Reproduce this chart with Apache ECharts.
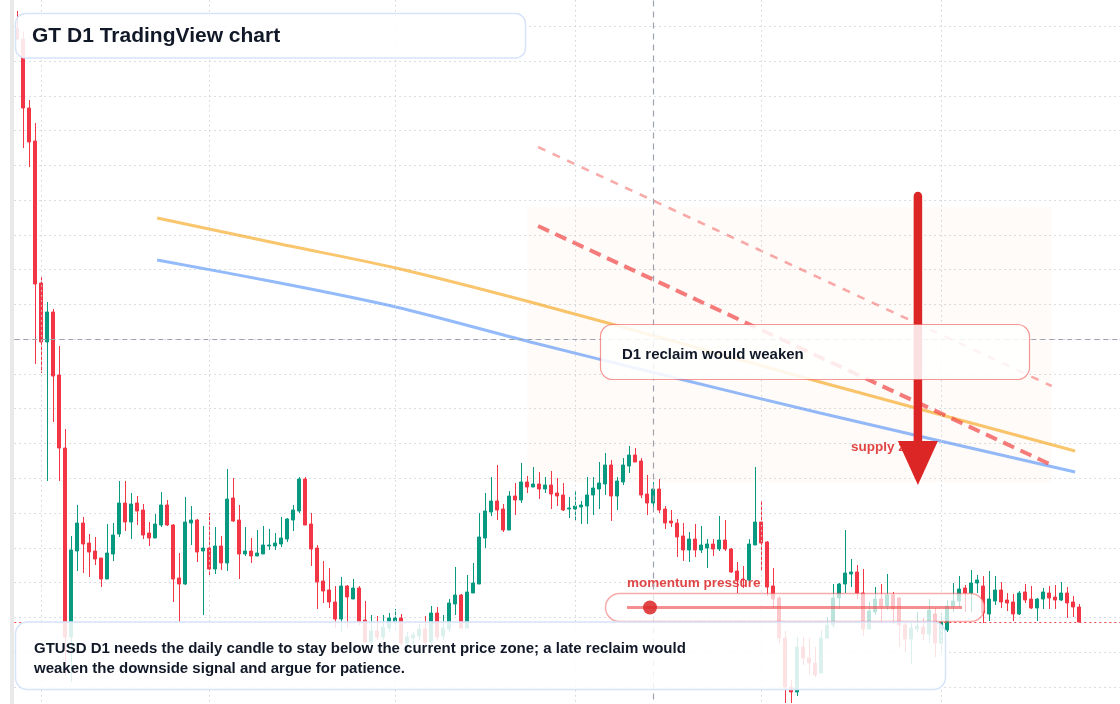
<!DOCTYPE html>
<html>
<head>
<meta charset="utf-8">
<title>GT D1 TradingView chart</title>
<script src="https://cdn.jsdelivr.net/npm/echarts@6.0.0/dist/echarts.min.js"></script>
<style>
  html, body { margin: 0; padding: 0; background: #fff; }
  #chart { width: 1120px; height: 704px; }
</style>
</head>
<body>
<div id="chart"></div>
<script>
// daily slots, first candle on 2025-01-28, a few empty days kept on the right
const firstDay = Date.UTC(2025, 0, 28)
const slotCount = 185
const dates = []
for (let i = 0; i < slotCount; i++) {
  dates.push(new Date(firstDay + i * 86400000).toISOString().slice(0, 10))
}

const open = [24.72, 24.61, 23.92, 23.59, 22.17, 21.58, 21.88, 21.25, 20.52, 18.63,
  19.49, 19.77, 19.57, 19.49, 19.42, 19.21, 19.46, 19.66, 19.97, 19.78,
  19.97, 19.90, 19.67, 19.62, 19.75, 19.95, 19.75, 19.22, 19.16, 19.77,
  19.80, 19.49, 19.52, 19.31, 19.54, 19.37, 20.02, 19.80, 19.46, 19.49,
  19.44, 19.46, 19.54, 19.54, 19.56, 19.61, 19.80, 19.89, 20.21, 19.76,
  19.52, 19.19, 19.10, 18.98, 18.81, 19.14, 19.01, 19.12, 18.80, 18.58,
  18.69, 18.63, 18.72, 18.78, 18.82, 18.57, 18.62, 18.64, 18.71, 18.58,
  18.87, 18.64, 18.71, 18.96, 19.05, 18.72, 19.07, 19.16, 19.62, 19.88,
  19.99, 19.91, 19.70, 20.04, 20.00, 20.18, 20.13, 20.16, 20.11, 20.15,
  20.07, 20.05, 19.91, 19.91, 19.93, 19.94, 20.05, 20.11, 20.16, 20.35,
  20.04, 20.18, 20.34, 20.45, 20.39, 20.06, 19.97, 20.11, 19.91, 19.79,
  19.77, 19.64, 19.50, 19.61, 19.50, 19.52, 19.56, 19.51, 19.60, 19.51,
  19.29, 19.21, 19.20, 19.55, 19.78, 19.58, 19.14, 19.02, 18.62, 18.13,
  18.08, 18.53, 18.42, 18.37, 18.27, 18.62, 18.75, 19.02, 19.16, 19.26,
  19.28, 19.07, 18.71, 18.88, 19.01, 18.94, 19.05, 19.02, 18.75, 18.61,
  18.71, 18.73, 18.66, 18.86, 18.57, 18.70, 18.94, 18.99, 19.12, 19.07,
  19.17, 19.14, 18.86, 18.99, 19.10, 19.00, 18.98, 18.86, 19.08, 19.01,
  18.92, 19.01, 19.07, 19.03, 19.00, 19.07, 18.98, 18.93]
const close = [24.61, 23.92, 23.58, 22.16, 21.58, 21.88, 21.24, 20.52, 18.63, 19.50,
  19.77, 19.56, 19.48, 19.41, 19.21, 19.47, 19.65, 19.97, 19.78, 19.96,
  19.89, 19.65, 19.62, 19.76, 19.95, 19.75, 19.21, 19.16, 19.78, 19.80,
  19.48, 19.52, 19.31, 19.54, 19.37, 20.01, 19.79, 19.46, 19.49, 19.44,
  19.47, 19.55, 19.55, 19.57, 19.62, 19.81, 19.90, 20.21, 19.75, 19.51,
  19.18, 19.09, 18.98, 18.81, 19.14, 19.03, 19.12, 18.78, 18.58, 18.69,
  18.63, 18.73, 18.82, 18.82, 18.57, 18.63, 18.65, 18.71, 18.58, 18.87,
  18.63, 18.72, 18.97, 19.05, 18.72, 19.08, 19.17, 19.63, 19.89, 19.99,
  19.90, 19.70, 20.04, 20.00, 20.18, 20.13, 20.16, 20.11, 20.15, 20.06,
  20.04, 19.90, 19.92, 19.94, 19.95, 20.05, 20.12, 20.17, 20.35, 20.04,
  20.19, 20.35, 20.45, 20.38, 20.05, 19.97, 20.11, 19.90, 19.77, 19.77,
  19.63, 19.50, 19.61, 19.50, 19.55, 19.56, 19.51, 19.60, 19.51, 19.28,
  19.20, 19.20, 19.56, 19.78, 19.57, 19.13, 19.01, 18.62, 18.13, 18.08,
  18.53, 18.42, 18.37, 18.25, 18.62, 18.75, 19.02, 19.16, 19.27, 19.28,
  19.07, 18.71, 18.89, 19.01, 18.94, 19.05, 18.91, 18.75, 18.61, 18.72,
  18.74, 18.66, 18.90, 18.57, 18.78, 18.94, 18.99, 19.11, 19.07, 19.17,
  19.20, 18.87, 19.01, 19.10, 18.98, 18.97, 18.86, 19.07, 19.00, 18.92,
  19.01, 19.08, 19.02, 19.00, 19.07, 18.97, 18.93, 18.78]
const low = [24.60, 23.52, 23.33, 21.36, 21.27, 20.19, 20.78, 20.19, 18.24, 18.18,
  19.29, 19.27, 19.23, 19.35, 19.13, 19.21, 19.39, 19.63, 19.69, 19.61,
  19.75, 19.61, 19.54, 19.62, 19.73, 19.74, 18.98, 18.78, 19.15, 19.55,
  19.38, 18.85, 19.25, 19.26, 19.30, 19.29, 19.78, 19.21, 19.44, 19.37,
  19.44, 19.46, 19.50, 19.50, 19.53, 19.58, 19.69, 19.87, 19.75, 19.34,
  18.91, 18.97, 18.92, 18.72, 18.68, 18.72, 19.01, 18.75, 18.58, 18.55,
  18.60, 18.60, 18.68, 18.70, 18.55, 18.50, 18.55, 18.60, 18.55, 18.55,
  18.60, 18.60, 18.68, 18.85, 18.72, 18.72, 19.07, 19.16, 19.52, 19.84,
  19.80, 19.68, 19.70, 19.85, 19.97, 20.07, 20.13, 20.01, 20.07, 19.91,
  19.94, 19.89, 19.82, 19.79, 19.76, 19.76, 19.85, 19.91, 20.05, 19.79,
  19.90, 20.15, 20.27, 20.38, 20.02, 19.85, 19.93, 19.87, 19.71, 19.73,
  19.43, 19.39, 19.38, 19.43, 19.47, 19.32, 19.44, 19.49, 19.49, 19.27,
  19.07, 19.12, 19.20, 19.55, 19.30, 19.04, 18.91, 18.57, 17.97, 17.97,
  18.04, 18.35, 18.25, 18.23, 18.27, 18.62, 18.72, 18.91, 19.07, 19.13,
  19.01, 18.64, 18.71, 18.85, 18.77, 18.90, 18.76, 18.53, 18.48, 18.36,
  18.68, 18.60, 18.57, 18.43, 18.47, 18.68, 18.88, 18.93, 18.88, 18.88,
  19.07, 18.77, 18.79, 18.95, 18.92, 18.89, 18.79, 18.85, 18.97, 18.91,
  18.79, 18.91, 18.91, 18.91, 18.99, 18.82, 18.83, 18.78]
const high = [24.89, 24.68, 24.00, 23.77, 22.23, 21.98, 21.91, 21.54, 20.71, 19.64,
  19.95, 19.83, 19.66, 19.63, 19.42, 19.76, 19.77, 20.19, 20.19, 20.07,
  20.04, 19.96, 19.78, 19.86, 20.08, 20.00, 19.76, 19.47, 20.03, 19.94,
  19.81, 19.74, 19.87, 19.73, 19.64, 20.31, 20.22, 19.95, 19.73, 19.62,
  19.70, 19.74, 19.71, 19.67, 19.83, 19.82, 19.95, 20.23, 20.23, 19.87,
  19.55, 19.39, 19.32, 19.14, 19.23, 19.15, 19.21, 19.14, 18.99, 18.85,
  18.84, 18.85, 18.87, 18.91, 18.86, 18.68, 18.68, 18.76, 18.84, 18.94,
  18.93, 18.85, 19.01, 19.33, 19.06, 19.25, 19.37, 19.87, 20.07, 20.23,
  20.35, 19.96, 20.09, 20.17, 20.37, 20.24, 20.33, 20.28, 20.23, 20.29,
  20.22, 20.17, 20.03, 20.09, 19.99, 20.23, 20.23, 20.38, 20.47, 20.40,
  20.23, 20.42, 20.54, 20.52, 20.42, 20.25, 20.18, 20.21, 19.94, 19.90,
  19.81, 19.77, 19.68, 19.76, 19.74, 19.61, 19.61, 19.84, 19.80, 19.52,
  19.38, 19.34, 19.61, 20.33, 19.99, 19.59, 19.32, 19.04, 18.69, 18.20,
  18.63, 18.63, 18.62, 18.53, 18.70, 18.83, 19.16, 19.17, 19.70, 19.41,
  19.35, 19.31, 18.98, 19.13, 19.16, 19.26, 19.08, 19.03, 18.78, 18.78,
  18.88, 18.82, 19.01, 18.92, 18.87, 19.00, 19.17, 19.24, 19.15, 19.30,
  19.25, 19.24, 19.29, 19.24, 19.18, 19.07, 19.06, 19.09, 19.16, 19.14,
  19.02, 19.12, 19.14, 19.15, 19.18, 19.13, 19.04, 18.96]

// overlays, as [day index, price]
const emaFast = [[23.3, 22.82], [43.8, 22.56], [63.1, 22.32], [85.5, 21.98], [110.4, 21.57], [133.8, 21.18], [176.3, 20.49]]
const emaSlow = [[23.3, 22.40], [43.8, 22.17], [63.1, 21.93], [85.5, 21.58], [110.4, 21.21], [133.8, 20.87], [176.3, 20.28]]
const supplyLine = [[86.8, 22.74], [172.4, 20.35]]
const upperLine = [[86.8, 23.53], [172.4, 21.14]]
const supplyZone = [[85.0, 22.93], [172.4, 20.18]]
const crossDay = 106
const crossPrice = 21.61
const arrowDay = 150.1
const arrowPrices = [23.04, 20.59, 20.15] // tail, head base, tip

const candleData = open.map((o, i) => [o, close[i], low[i], high[i]])
const monthStarts = []
dates.forEach((d, i) => { if (d.slice(8) === '01') monthStarts.push(i) })

const font = '"Liberation Sans", Arial, sans-serif'
const ink = '#111827'
const red = 'rgba(220,38,38,0.85)'
const dotted = { color: '#d0d4d9', width: 1, type: [1.5, 3.5] }
const noMark = { symbol: ['none', 'none'], silent: true, label: { show: false }, animation: false }

let chart = echarts.init(document.getElementById('chart'))
chart.setOption({
  animation: false,
  backgroundColor: '#ffffff',
  grid: { left: 14.3, right: -4.3, top: -8.54, bottom: -17.6, outerBoundsMode: 'none', containLabel: false },
  xAxis: [
    { type: 'category', data: dates, boundaryGap: true, show: false },
    { type: 'value', min: -0.5, max: slotCount - 0.5, show: false }
  ],
  yAxis: [
    {
      type: 'value', min: 0, max: 21, interval: 1,
      axisLine: { show: false }, axisTick: { show: false }, axisLabel: { show: false },
      splitLine: { show: true, lineStyle: dotted }
    },
    { type: 'value', min: 17.784, max: 25.0854, show: false }
  ],
  series: [
    { // month grid lines
      type: 'line', xAxisIndex: 1, yAxisIndex: 1, data: [], z: 0, silent: true,
      markLine: Object.assign({}, noMark, { lineStyle: dotted, data: monthStarts.map(i => ({ xAxis: i })) })
    },
    { // supply zone shade
      type: 'line', xAxisIndex: 1, yAxisIndex: 1, data: [], z: 1, silent: true,
      markArea: {
        silent: true,
        itemStyle: { color: 'rgba(249,115,22,0.03)' },
        data: [[{ coord: supplyZone[0] }, { coord: supplyZone[1] }]]
      }
    },
    {
      type: 'line', xAxisIndex: 1, yAxisIndex: 1, data: emaFast, smooth: 0.3, symbol: 'none', z: 2, silent: true,
      lineStyle: { color: 'rgba(245,158,11,0.6)', width: 3 }
    },
    {
      type: 'line', xAxisIndex: 1, yAxisIndex: 1, data: emaSlow, smooth: 0.3, symbol: 'none', z: 2, silent: true,
      lineStyle: { color: 'rgba(59,130,246,0.55)', width: 3 }
    },
    {
      type: 'line', xAxisIndex: 1, yAxisIndex: 1, data: supplyLine, symbol: 'none', z: 2, silent: true,
      lineStyle: { color: 'rgba(239,68,68,0.7)', width: 4, type: [12, 7] }
    },
    {
      type: 'line', xAxisIndex: 1, yAxisIndex: 1, data: upperLine, symbol: 'none', z: 2, silent: true,
      lineStyle: { color: 'rgba(239,68,68,0.45)', width: 2.5, type: [8, 8] }
    },
    {
      type: 'candlestick', xAxisIndex: 0, yAxisIndex: 1, data: candleData, barWidth: 3.8, z: 3, silent: true,
      itemStyle: { color: '#089981', color0: '#f23645', borderColor: '#089981', borderColor0: '#f23645', borderWidth: 1 },
      markLine: Object.assign({}, noMark, {
        data: [
          { xAxis: dates[crossDay], lineStyle: { color: '#9ca3af', width: 1.2, type: [6, 5] } },
          { yAxis: crossPrice, lineStyle: { color: '#9ca3af', width: 1.2, type: [5, 4] } },
          { yAxis: close[close.length - 1], lineStyle: { color: '#ef4444', width: 1, type: [2, 3] } }
        ]
      })
    }
  ]
})

// arrow placed from its data position
const tail = chart.convertToPixel({ seriesIndex: 2 }, [arrowDay, arrowPrices[0]])
const head = chart.convertToPixel({ seriesIndex: 2 }, [arrowDay, arrowPrices[1]])
const tip = chart.convertToPixel({ seriesIndex: 2 }, [arrowDay, arrowPrices[2]])

chart.setOption({
  graphic: [
    { type: 'rect', silent: true, z: 1, shape: { x: 10, y: 0, width: 4, height: 704 }, style: { fill: '#e9e9e9' } },
    {
      type: 'text', silent: true, z: 1, x: 627, y: 583,
      style: { text: 'momentum pressure', font: 'bold 13.5px ' + font, fill: red, verticalAlign: 'middle' }
    },
    {
      type: 'text', silent: true, z: 50, x: 851, y: 447.5,
      style: { text: 'supply zone', font: 'bold 13.5px ' + font, fill: red, verticalAlign: 'middle' }
    },
    {
      type: 'line', silent: true, z: 60,
      shape: { x1: tail[0], y1: tail[1], x2: head[0], y2: head[1] + 4 },
      style: { stroke: '#dc2626', lineWidth: 8.5, lineCap: 'round' }
    },
    {
      type: 'polygon', silent: true, z: 60,
      shape: { points: [[head[0] - 20, head[1]], [head[0] + 20, head[1]], [tip[0], tip[1]]] },
      style: { fill: '#dc2626' }
    },
    { // reclaim box
      type: 'rect', silent: true, z: 70,
      shape: { x: 600.5, y: 324.5, width: 429, height: 55, r: 12 },
      style: { fill: 'rgba(255,255,255,0.86)', stroke: 'rgba(239,68,68,0.55)', lineWidth: 1.2 }
    },
    {
      type: 'text', silent: true, z: 71, x: 622, y: 354.5,
      style: { text: 'D1 reclaim would weaken', font: 'bold 15px ' + font, fill: ink, verticalAlign: 'middle' }
    },
    { // momentum pill
      type: 'rect', silent: true, z: 70,
      shape: { x: 605.5, y: 593.5, width: 379, height: 28, r: 14 },
      style: { fill: 'rgba(255,255,255,0.72)', stroke: 'rgba(239,68,68,0.45)', lineWidth: 1.5 }
    },
    {
      type: 'line', silent: true, z: 71,
      shape: { x1: 627, y1: 607.5, x2: 962, y2: 607.5 },
      style: { stroke: 'rgba(239,68,68,0.6)', lineWidth: 3 }
    },
    {
      type: 'circle', silent: true, z: 72,
      shape: { cx: 650, cy: 607.5, r: 7 },
      style: { fill: 'rgba(220,38,38,0.85)' }
    },
    { // note box
      type: 'rect', silent: true, z: 70,
      shape: { x: 15.5, y: 622, width: 930, height: 67.5, r: 12 },
      style: { fill: 'rgba(255,255,255,0.86)', stroke: '#d6e4fa', lineWidth: 1.5 }
    },
    {
      type: 'text', silent: true, z: 71, x: 34, y: 648.5,
      style: { text: 'GTUSD D1 needs the daily candle to stay below the current price zone; a late reclaim would', font: 'bold 15px ' + font, fill: ink, verticalAlign: 'middle' }
    },
    {
      type: 'text', silent: true, z: 71, x: 34, y: 668.5,
      style: { text: 'weaken the downside signal and argue for patience.', font: 'bold 15px ' + font, fill: ink, verticalAlign: 'middle' }
    },
    { // title box
      type: 'rect', silent: true, z: 70,
      shape: { x: 15.5, y: 13.5, width: 510, height: 44.5, r: 10 },
      style: { fill: 'rgba(255,255,255,0.88)', stroke: '#d6e4fa', lineWidth: 1.5 }
    },
    {
      type: 'text', silent: true, z: 71, x: 32, y: 36.5,
      style: { text: 'GT D1 TradingView chart', font: 'bold 21px ' + font, fill: ink, verticalAlign: 'middle' }
    }
  ]
})

window.addEventListener('resize', function () {
  chart.resize()
})
</script>
</body>
</html>
